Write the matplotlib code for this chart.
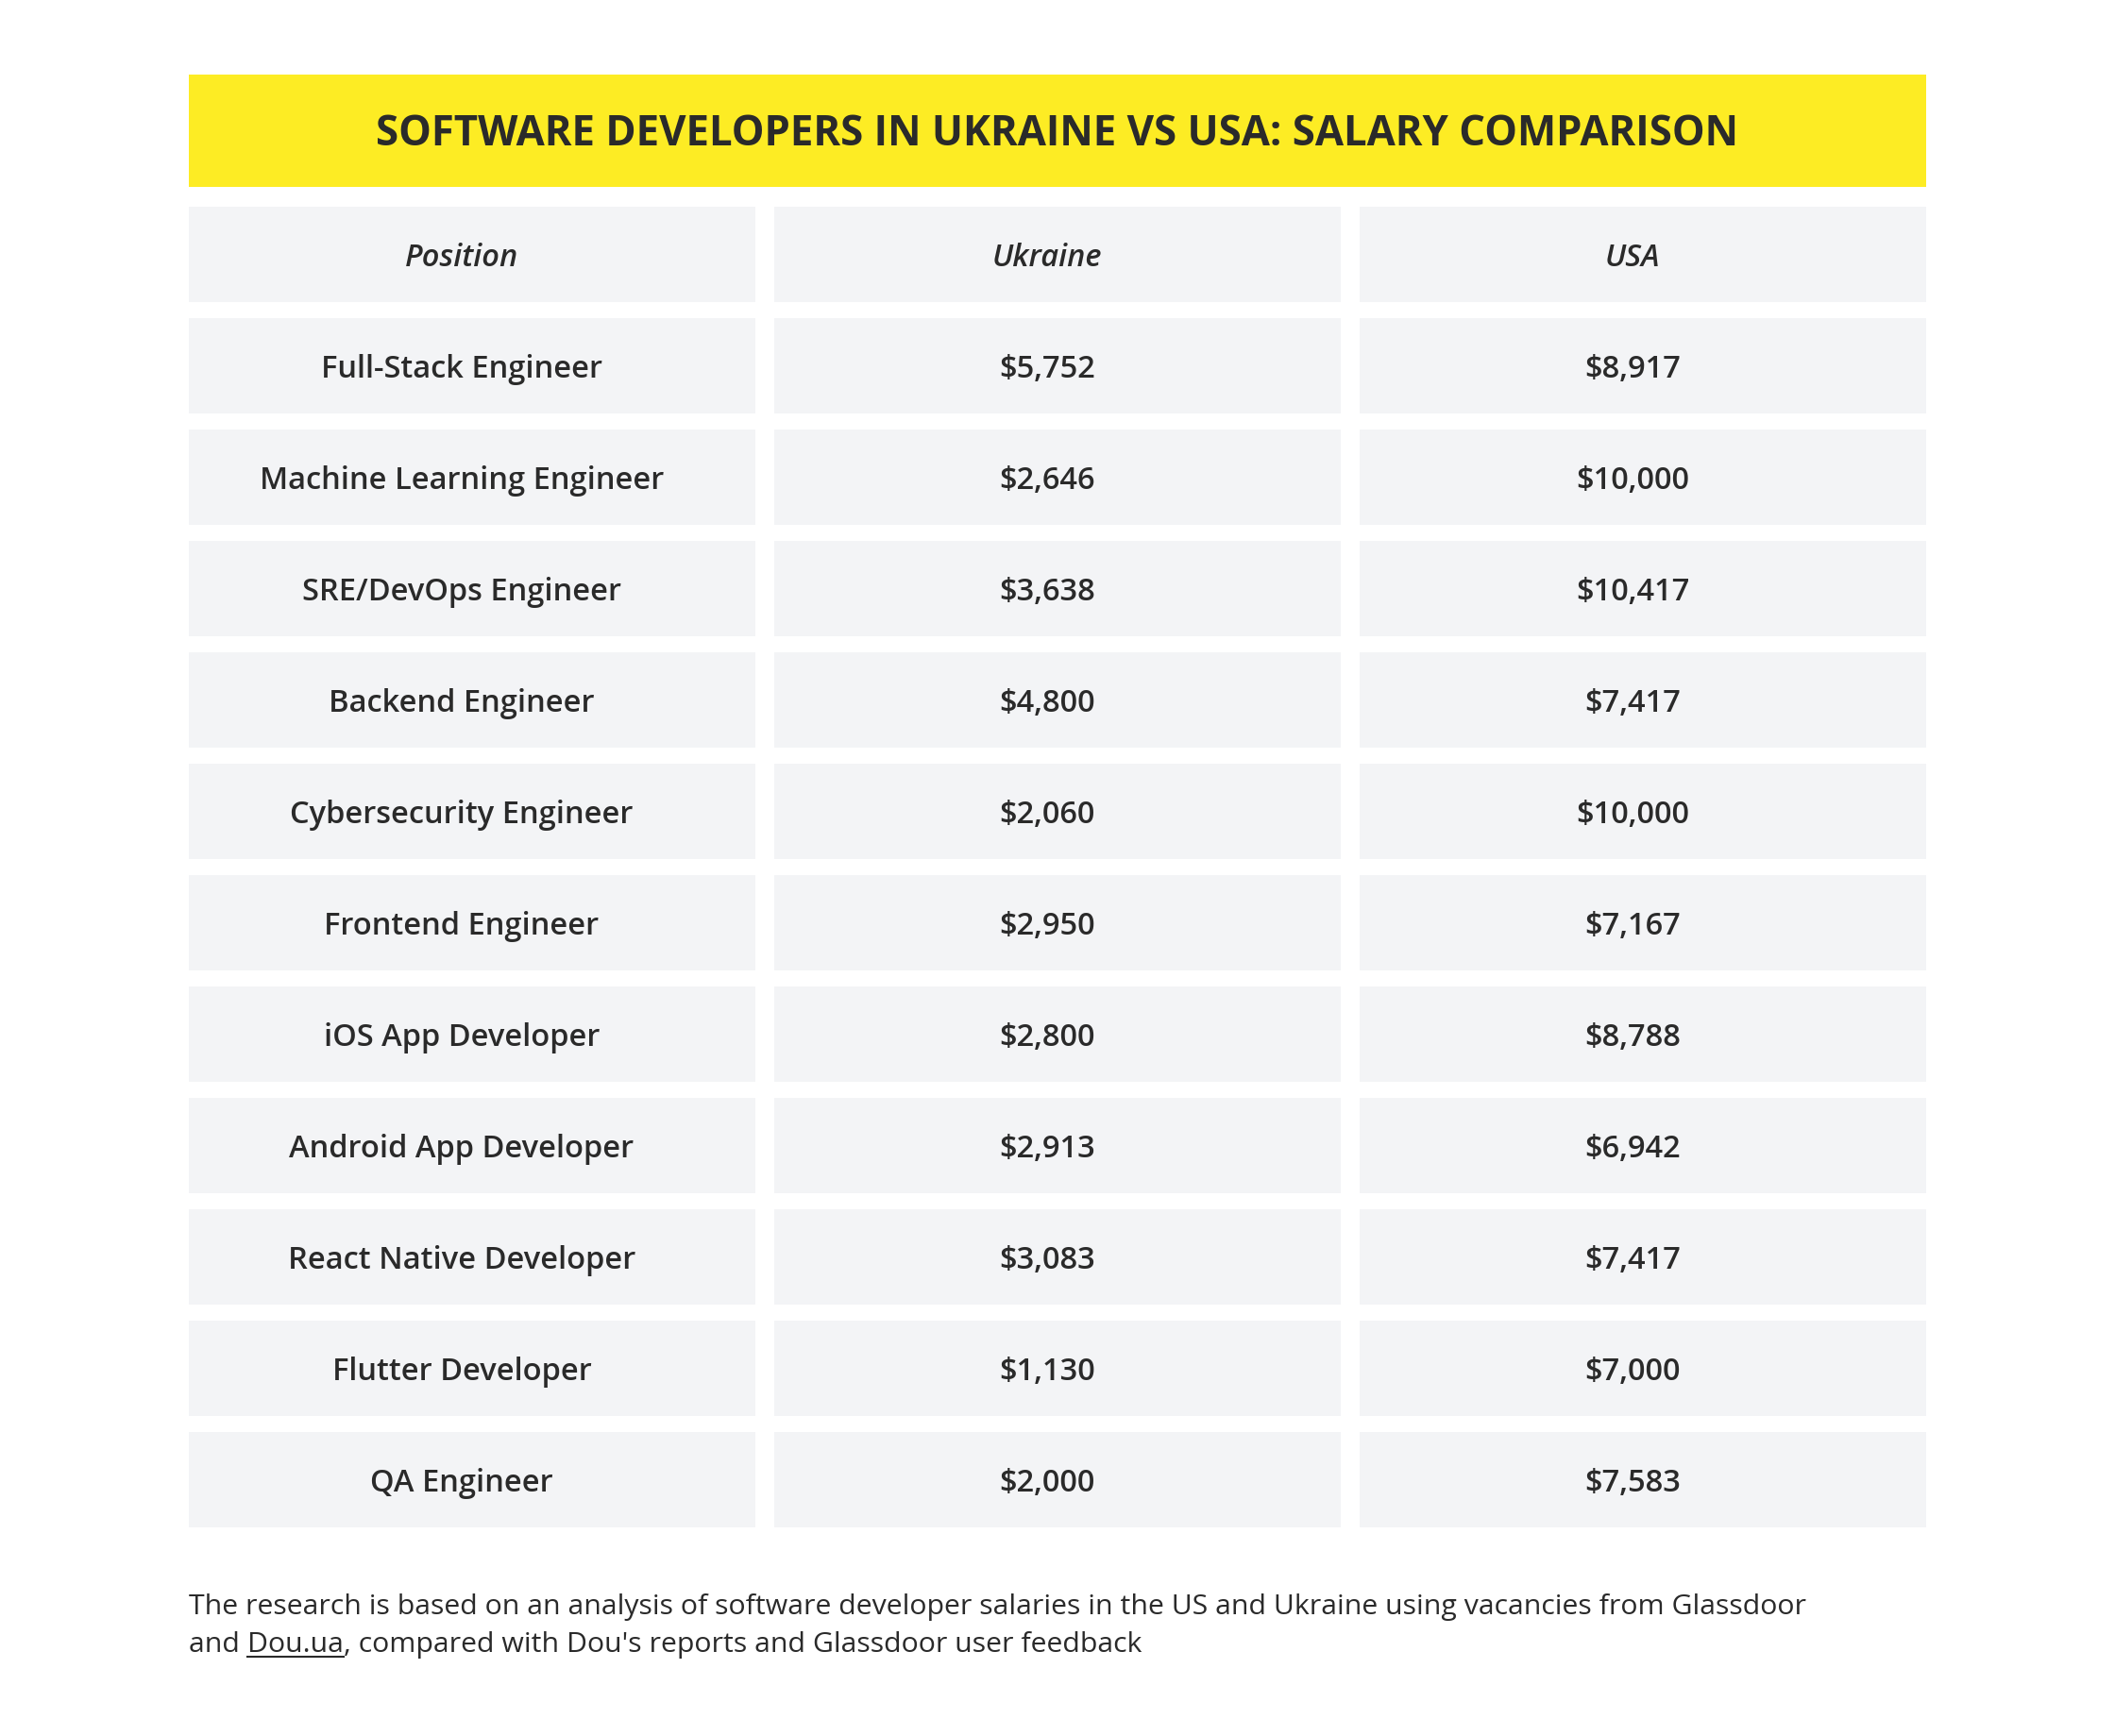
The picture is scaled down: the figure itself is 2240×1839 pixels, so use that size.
import matplotlib
matplotlib.use("Agg")
import matplotlib.pyplot as plt
from matplotlib.patches import Rectangle

plt.rcParams['font.family'] = ['Open Sans', 'DejaVu Sans']

title = "SOFTWARE DEVELOPERS IN UKRAINE VS USA: SALARY COMPARISON"
headers = ["Position", "Ukraine", "USA"]
positions = ["Full-Stack Engineer", "Machine Learning Engineer", "SRE/DevOps Engineer",
             "Backend Engineer", "Cybersecurity Engineer", "Frontend Engineer",
             "iOS App Developer", "Android App Developer", "React Native Developer",
             "Flutter Developer", "QA Engineer"]
ukraine = [5752, 2646, 3638, 4800, 2060, 2950, 2800, 2913, 3083, 1130, 2000]
usa = [8917, 10000, 10417, 7417, 10000, 7167, 8788, 6942, 7417, 7000, 7583]
note_1 = "The research is based on an analysis of software developer salaries in the US and Ukraine using vacancies from Glassdoor"
note_2 = ["and ", "Dou.ua", ", compared with Dou's reports and Glassdoor user feedback"]

W, H = 2240, 1840
yellow = "#FDEC24"
cell_bg = "#F3F4F6"
ink = "#2A2A2A"

fig = plt.figure(figsize=(W / 100, H / 100), dpi=100)
ax = fig.add_axes([0, 0, 1, 1])
ax.set_xlim(0, W)
ax.set_ylim(H, 0)
ax.axis("off")

# banner
left, right = 200, 2040
ax.add_patch(Rectangle((left, 80), right - left, 119, color=yellow, lw=0))
ax.text((left + right) / 2, 143, title, ha="center", va="center",
        fontsize=31.5, fontweight="bold", color=ink)

# table grid
col_w, col_gap = 600, 20
row_h, row_step, top = 101, 118, 220

def cell(ci, ri, s, **kw):
    x = left + ci * (col_w + col_gap)
    y = top + ri * row_step
    ax.add_patch(Rectangle((x, y), col_w, row_h, color=cell_bg, lw=0))
    ax.text(x + col_w / 2 - 11, y + row_h / 2 + 3, s, ha="center", va="center",
            fontsize=23.5, color=ink, **kw)

for ci, h in enumerate(headers):
    cell(ci, 0, h, fontstyle="italic", fontweight="semibold")

for ri, (p, u, s) in enumerate(zip(positions, ukraine, usa), start=1):
    cell(0, ri, p, fontweight="semibold")
    cell(1, ri, f"${u:,}", fontweight="semibold")
    cell(2, ri, f"${s:,}", fontweight="semibold")

# footnote
fs = 21.8
ax.text(left, 1703, note_1, ha="left", va="center", fontsize=fs, color=ink)
fig.canvas.draw()
r = fig.canvas.get_renderer()
x = left
inv = ax.transData.inverted()
for i, part in enumerate(note_2):
    t = ax.text(x, 1743, part, ha="left", va="center", fontsize=fs, color=ink)
    bb = t.get_window_extent(r)
    (x0, y0), (x1, y1) = inv.transform([[bb.x0, bb.y0], [bb.x1, bb.y1]])
    if i == 1:
        ax.plot([x0, x1], [y0 - 2, y0 - 2], color=ink, lw=1.5)
    x = x1

fig.savefig("out.png", dpi=100, facecolor="white")
